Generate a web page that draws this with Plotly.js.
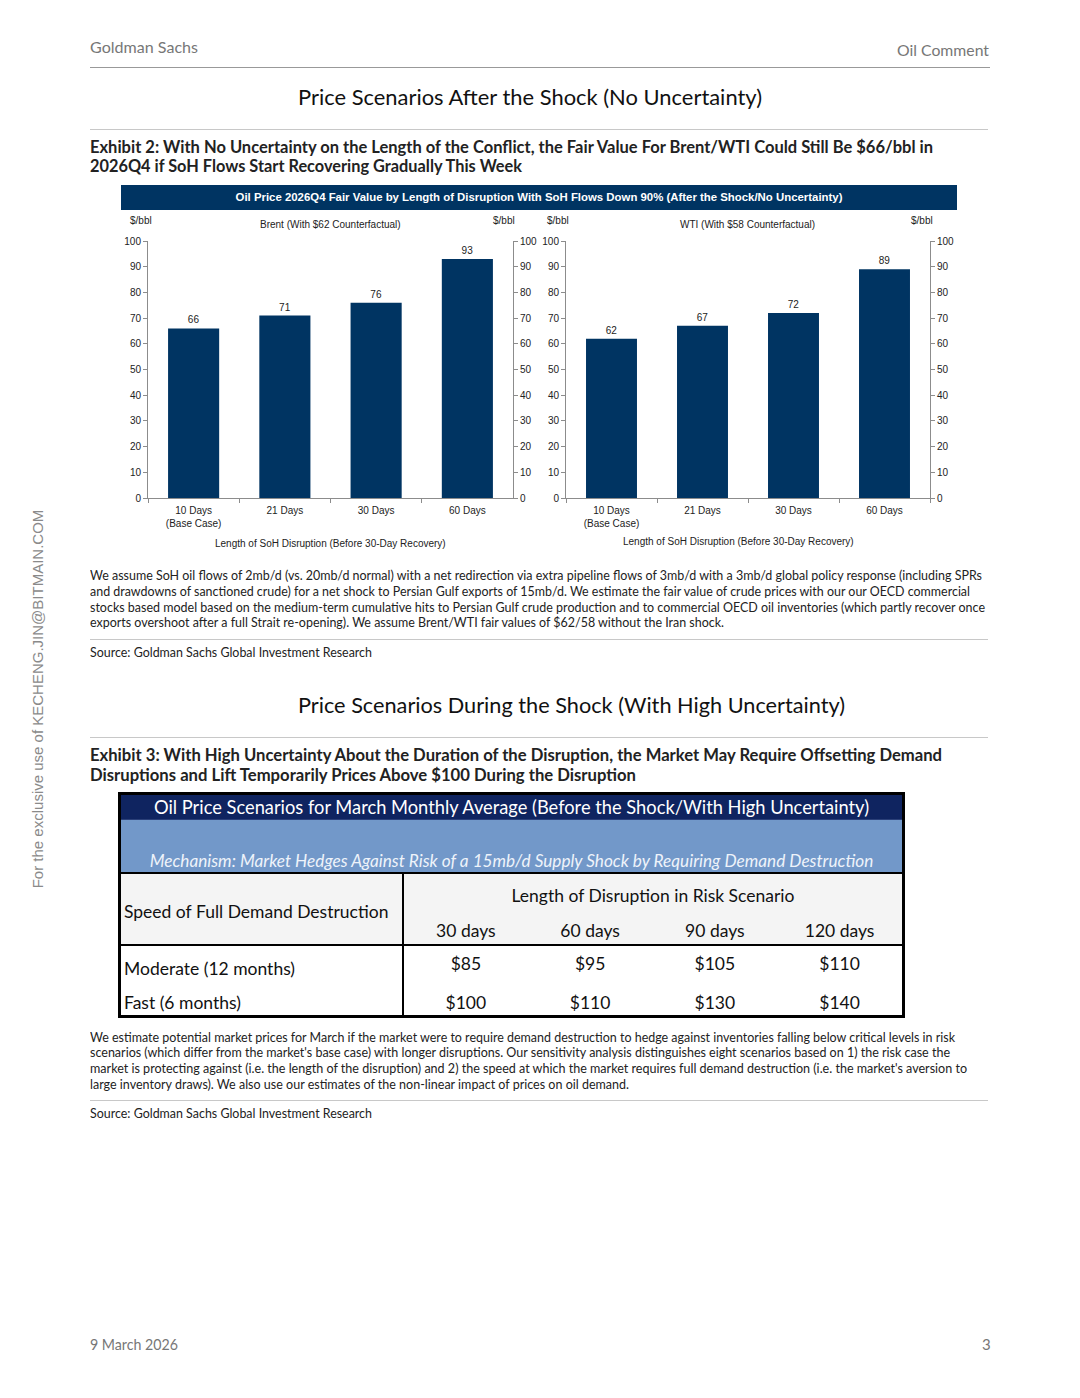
<!DOCTYPE html>
<html>
<head>
<meta charset="utf-8">
<script src="https://cdn.plot.ly/plotly-3.0.1.min.js"></script>
<style>
  html,body{margin:0;padding:0;background:#fff;}
  body{width:1080px;height:1398px;position:relative;overflow:hidden;font-family:Lato,'Open Sans',sans-serif;color:#222;}
  .t{position:absolute;white-space:nowrap;display:inline-block;transform-origin:left center;}
  .hr{position:absolute;height:0;border-top:1px solid #c8c8c8;}
  .cap{font-size:13px;line-height:16px;color:#222;}
  .ex{font-size:16.5px;line-height:20px;font-weight:bold;color:#222;}
  .sec{font-size:22px;line-height:26px;color:#111;}
  .gray{font-size:16px;line-height:18px;color:#777;}
  #tbl{position:absolute;left:118px;top:792px;width:787px;height:226px;box-sizing:border-box;border:3px solid #000;}
  #tbl table{border-collapse:collapse;width:100%;height:100%;table-layout:fixed;}
  #tbl td{padding:0;font-size:17.5px;color:#111;white-space:nowrap;overflow:visible;}
</style>
</head>
<body>
<!-- page furniture -->
<div class="t gray" style="left:90px;top:38px;" data-w="108">Goldman Sachs</div>
<div class="t gray" style="left:897px;top:41px;" data-w="92">Oil Comment</div>
<div class="hr" style="left:90px;top:67px;width:900px;border-color:#999;"></div>

<div class="t sec" style="left:298px;top:84px;" data-w="464">Price Scenarios After the Shock (No Uncertainty)</div>
<div class="hr" style="left:90px;top:129px;width:898px;"></div>

<div class="t ex" style="left:90px;top:137px;" data-w="843">Exhibit 2: With No Uncertainty on the Length of the Conflict, the Fair Value For Brent/WTI Could Still Be $66/bbl in</div>
<div class="t ex" style="left:90px;top:156px;" data-w="432">2026Q4 if SoH Flows Start Recovering Gradually This Week</div>

<div style="position:absolute;left:121px;top:185px;width:836px;height:25px;background:#003462;color:#fff;
  font-family:'Liberation Sans',Arial,sans-serif;font-weight:bold;font-size:11.4px;line-height:25px;text-align:center;white-space:nowrap;">
Oil Price 2026Q4 Fair Value by Length of Disruption With SoH Flows Down 90% (After the Shock/No Uncertainty)</div>

<div id="chart" style="position:absolute;left:0;top:210px;width:1080px;height:350px;"></div>

<div class="t cap" style="left:90px;top:567px;" data-w="892">We assume SoH oil flows of 2mb/d (vs. 20mb/d normal) with a net redirection via extra pipeline flows of 3mb/d with a 3mb/d global policy response (including SPRs</div>
<div class="t cap" style="left:90px;top:583px;" data-w="880">and drawdowns of sanctioned crude) for a net shock to Persian Gulf exports of 15mb/d. We estimate the fair value of crude prices with our our OECD commercial</div>
<div class="t cap" style="left:90px;top:599px;" data-w="895">stocks based model based on the medium-term cumulative hits to Persian Gulf crude production and to commercial OECD oil inventories (which partly recover once</div>
<div class="t cap" style="left:90px;top:614px;" data-w="634">exports overshoot after a full Strait re-opening). We assume Brent/WTI fair values of $62/58 without the Iran shock.</div>
<div class="hr" style="left:90px;top:639px;width:898px;"></div>
<div class="t cap" style="left:90px;top:644px;" data-w="282">Source: Goldman Sachs Global Investment Research</div>

<div class="t sec" style="left:298px;top:692px;" data-w="547">Price Scenarios During the Shock (With High Uncertainty)</div>
<div class="hr" style="left:90px;top:737px;width:898px;"></div>

<div class="t ex" style="left:90px;top:745px;" data-w="852">Exhibit 3: With High Uncertainty About the Duration of the Disruption, the Market May Require Offsetting Demand</div>
<div class="t ex" style="left:90px;top:765px;" data-w="546">Disruptions and Lift Temporarily Prices Above $100 During the Disruption</div>

<div id="tbl"></div>

<div class="t cap" style="left:90px;top:1029px;" data-w="865">We estimate potential market prices for March if the market were to require demand destruction to hedge against inventories falling below critical levels in risk</div>
<div class="t cap" style="left:90px;top:1044px;" data-w="860">scenarios (which differ from the market's base case) with longer disruptions. Our sensitivity analysis distinguishes eight scenarios based on 1) the risk case the</div>
<div class="t cap" style="left:90px;top:1060px;" data-w="877">market is protecting against (i.e. the length of the disruption) and 2) the speed at which the market requires full demand destruction (i.e. the market's aversion to</div>
<div class="t cap" style="left:90px;top:1076px;" data-w="539">large inventory draws). We also use our estimates of the non-linear impact of prices on oil demand.</div>
<div class="hr" style="left:90px;top:1100px;width:898px;"></div>
<div class="t cap" style="left:90px;top:1105px;" data-w="282">Source: Goldman Sachs Global Investment Research</div>

<div class="t gray" style="left:90px;top:1335px;font-size:15px;" data-w="88">9 March 2026</div>
<div class="t gray" style="left:982px;top:1335px;font-size:15px;">3</div>

<div style="position:absolute;left:38px;top:699px;white-space:nowrap;font-family:'Liberation Sans',Arial,sans-serif;font-size:15px;line-height:18px;color:#8a8a8a;transform:translate(-50%,-50%) rotate(-90deg);">For the exclusive use of KECHENG.JIN@BITMAIN.COM</div>

<script>
// ---------- data ----------
const categories = ["10 Days<br>(Base Case)", "21 Days", "30 Days", "60 Days"];
const brentValues = [66, 71, 76, 93];
const wtiValues = [62, 67, 72, 89];
const yTickVals = [0, 10, 20, 30, 40, 50, 60, 70, 80, 90, 100];

const tableTitle = "Oil Price Scenarios for March Monthly Average (Before the Shock/With High Uncertainty)";
const tableMechanism = "Mechanism: Market Hedges Against Risk of a 15mb/d Supply Shock by Requiring Demand Destruction";
const rowHeader = "Speed of Full Demand Destruction";
const colGroupHeader = "Length of Disruption in Risk Scenario";
const disruptionLengths = ["30 days", "60 days", "90 days", "120 days"];
const demandSpeeds = ["Moderate (12 months)", "Fast (6 months)"];
const pricesModerate = [85, 95, 105, 110];
const pricesFast = [100, 110, 130, 140];

// ---------- fit text widths ----------
document.querySelectorAll('[data-w]').forEach(el => {
  const w = el.getBoundingClientRect().width;
  el.style.transform = 'scaleX(' + (+el.dataset.w / w) + ')';
});

// ---------- chart ----------
const NAVY = "#003462";
const AX = "#8c8c8c";
const chartFont = {family: "Liberation Sans, Arial, sans-serif", size: 10, color: "#222"};

function yAxis(extra) {
  return Object.assign({
    range: [0, 100], tickvals: yTickVals, ticks: "outside", ticklen: 4, tickcolor: AX,
    showline: true, linecolor: AX, linewidth: 1, showgrid: false, zeroline: false,
    tickfont: chartFont, fixedrange: true
  }, extra);
}
function xAxis(extra) {
  return Object.assign({
    type: "category", range: [-0.5, 3.5], tickson: "boundaries", ticks: "outside", ticklen: 4,
    tickcolor: AX, showline: true, linecolor: AX, linewidth: 1, showgrid: false, zeroline: false,
    tickfont: chartFont, tickangle: 0, fixedrange: true, ticklabelstandoff: 3
  }, extra);
}

const barStyle = {type: "bar", marker: {color: NAVY, line: {width: 0}}, width: 0.56,
  textposition: "outside", cliponaxis: false, textfont: chartFont, hoverinfo: "skip", showlegend: false};

const traces = [
  Object.assign({}, barStyle, {x: categories, y: brentValues, text: brentValues.map(String), xaxis: "x", yaxis: "y"}),
  Object.assign({}, barStyle, {x: categories, y: wtiValues, text: wtiValues.map(String), xaxis: "x2", yaxis: "y2"}),
  {type: "scatter", mode: "markers", x: categories, y: brentValues, xaxis: "x", yaxis: "y3",
   marker: {opacity: 0}, hoverinfo: "skip", showlegend: false},
  {type: "scatter", mode: "markers", x: categories, y: wtiValues, xaxis: "x2", yaxis: "y4",
   marker: {opacity: 0}, hoverinfo: "skip", showlegend: false}
];

const W = 1080, H = 350, TOP = 210;
const px = v => v / W;
const py = v => 1 - (v - TOP) / H;

const ann = (x, y, text, extra) => Object.assign({
  xref: "paper", yref: "paper", x: px(x), y: py(y), text: text, showarrow: false,
  font: chartFont, xanchor: "center", yanchor: "middle"
}, extra || {});

const layout = {
  width: W, height: H,
  margin: {l: 0, r: 0, t: 0, b: 0},
  paper_bgcolor: "rgba(0,0,0,0)", plot_bgcolor: "rgba(0,0,0,0)",
  font: chartFont,
  xaxis: xAxis({domain: [px(148), px(513)], anchor: "y"}),
  yaxis: yAxis({domain: [py(498), py(241)], anchor: "x", side: "left"}),
  yaxis3: yAxis({overlaying: "y", anchor: "x", side: "right"}),
  xaxis2: xAxis({domain: [px(566), px(930)], anchor: "y2"}),
  yaxis2: yAxis({domain: [py(498), py(241)], anchor: "x2", side: "left"}),
  yaxis4: yAxis({overlaying: "y2", anchor: "x2", side: "right"}),
  annotations: [
    ann(141, 220, "$/bbl"), ann(504, 220, "$/bbl"), ann(558, 220, "$/bbl"), ann(922, 220, "$/bbl"),
    ann(330, 225, "Brent (With $62 Counterfactual)"),
    ann(748, 225, "WTI (With $58 Counterfactual)"),
    ann(330, 543, "Length of SoH Disruption (Before 30-Day Recovery)"),
    ann(738, 541, "Length of SoH Disruption (Before 30-Day Recovery)")
  ]
};

Plotly.newPlot("chart", traces, layout, {displayModeBar: false, staticPlot: true});

// ---------- table ----------
(function buildTable() {
  const B = "2px solid #000";
  let h = '<table><colgroup><col style="width:282px"><col><col><col><col></colgroup>';
  h += '<tr style="height:24px;background:#0f2460;"><td colspan="5" style="color:#fff;text-align:center;font-size:18.3px;">' + tableTitle + '</td></tr>';
  h += '<tr style="height:54px;background:#7298c9;"><td colspan="5" style="color:#eef3fa;text-align:center;vertical-align:bottom;padding-bottom:1px;font-style:italic;font-size:17.2px;border-top:1px solid #2a3f78;border-bottom:' + B + ';">' + tableMechanism + '</td></tr>';
  h += '<tr style="height:36px;background:#f4f4f4;"><td rowspan="2" style="text-align:left;padding-left:3px;padding-top:4px;border-right:' + B + ';border-bottom:' + B + ';">' + rowHeader + '</td>';
  h += '<td colspan="4" style="text-align:center;vertical-align:bottom;padding-bottom:3px;">' + colGroupHeader + '</td></tr>';
  h += '<tr style="height:36px;background:#f4f4f4;">';
  disruptionLengths.forEach(d => { h += '<td style="text-align:center;vertical-align:bottom;padding-bottom:3px;border-bottom:' + B + ';">' + d + '</td>'; });
  h += '</tr>';
  [pricesModerate, pricesFast].forEach((row, i) => {
    const pad = 'vertical-align:bottom;padding-bottom:2px;';
    h += '<tr style="height:' + (i === 0 ? 36 : 34) + 'px;background:#fff;"><td style="text-align:left;padding-left:3px;border-right:' + B + ';' + pad + '">' + demandSpeeds[i] + '</td>';
    row.forEach(v => { h += '<td style="text-align:center;' + (i === 0 ? 'vertical-align:top;padding-top:7px;' : pad) + '">$' + v + '</td>'; });
    h += '</tr>';
  });
  h += '</table>';
  document.getElementById("tbl").innerHTML = h;
})();
</script>
</body>
</html>
